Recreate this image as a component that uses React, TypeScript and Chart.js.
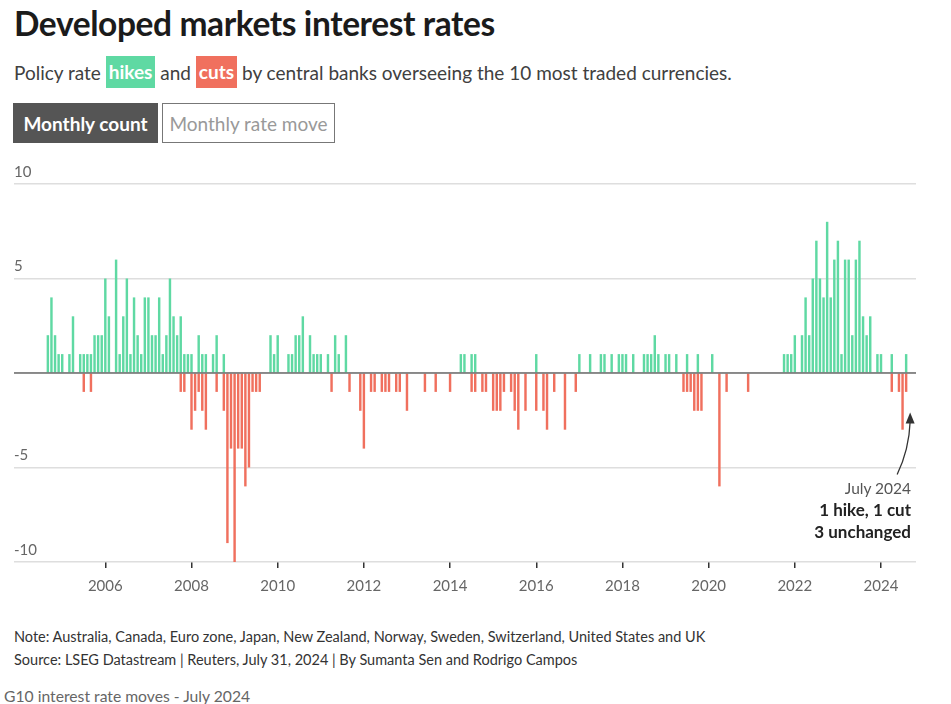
import { useEffect, useRef } from 'react';
import { Chart, registerables } from 'chart.js';

Chart.register(...registerables);

// Monthly counts of policy-rate moves, first month = August 2004, last = July 2024
const FIRST_YEAR = 2004;
const FIRST_MONTH = 8; // August

const hikes = [
  2, 4, 2, 1, 1, // 2004 Aug-Dec
  0, 1, 3, 0, 1, 1, 1, 1, 2, 2, 2, 5, // 2005
  3, 0, 6, 1, 3, 5, 1, 4, 2, 1, 4, 4, // 2006
  2, 2, 4, 1, 2, 5, 3, 2, 3, 1, 1, 1, // 2007
  0, 2, 1, 1, 0, 1, 2, 0, 1, 0, 0, 0, // 2008
  0, 0, 0, 0, 0, 0, 0, 0, 0, 2, 1, 2, // 2009
  0, 0, 1, 1, 2, 2, 3, 0, 2, 1, 1, 1, // 2010
  0, 1, 0, 2, 1, 0, 2, 0, 0, 0, 0, 0, // 2011
  0, 0, 0, 0, 0, 0, 0, 0, 0, 0, 0, 0, // 2012
  0, 0, 0, 0, 0, 0, 0, 0, 0, 0, 0, 0, // 2013
  0, 0, 1, 1, 0, 1, 1, 0, 0, 0, 0, 0, // 2014
  0, 0, 0, 0, 0, 0, 0, 0, 0, 0, 0, 1, // 2015
  0, 0, 0, 0, 0, 0, 0, 0, 0, 0, 0, 1, // 2016
  0, 0, 1, 0, 0, 1, 1, 0, 1, 0, 1, 1, // 2017
  1, 0, 1, 0, 0, 1, 1, 1, 2, 1, 0, 1, // 2018
  1, 0, 1, 0, 0, 1, 0, 0, 1, 0, 0, 0, // 2019
  1, 0, 0, 0, 0, 0, 0, 0, 0, 0, 0, 0, // 2020
  0, 0, 0, 0, 0, 0, 0, 0, 1, 1, 1, 2, // 2021
  0, 2, 4, 2, 5, 7, 5, 4, 8, 4, 6, 7, // 2022
  1, 6, 6, 2, 6, 7, 3, 2, 3, 0, 1, 1, // 2023
  0, 0, 1, 0, 0, 0, 1, // 2024 Jan-Jul
];

const cuts = [
  0, 0, 0, 0, 0, // 2004 Aug-Dec
  0, 0, 0, 0, 0, -1, 0, -1, 0, 0, 0, 0, // 2005
  0, 0, 0, 0, 0, 0, 0, 0, 0, 0, 0, 0, // 2006
  0, 0, 0, 0, 0, 0, 0, 0, -1, -1, 0, -3, // 2007
  -2, -1, -2, -3, 0, 0, -1, 0, -2, -9, -4, -10, // 2008
  -4, -4, -6, -5, -1, -1, -1, 0, 0, 0, 0, 0, // 2009
  0, 0, 0, 0, 0, 0, 0, 0, 0, 0, 0, 0, // 2010
  0, 0, -1, 0, 0, 0, 0, -1, 0, 0, -2, -4, // 2011
  0, -1, -1, 0, -1, -1, -1, 0, -1, -1, 0, -2, // 2012
  0, 0, 0, 0, -1, 0, 0, -1, 0, 0, 0, -1, // 2013
  0, 0, 0, 0, 0, -1, -1, 0, -1, -1, 0, -2, // 2014
  -2, -2, -1, 0, -1, -2, -3, 0, -2, 0, 0, -2, // 2015
  0, -2, -3, 0, -1, 0, 0, -3, 0, 0, -1, 0, // 2016
  0, 0, 0, 0, 0, 0, 0, 0, 0, 0, 0, 0, // 2017
  0, 0, 0, 0, 0, 0, 0, 0, 0, 0, 0, 0, // 2018
  0, 0, 0, 0, -1, -1, -1, -2, -2, -2, 0, 0, // 2019
  0, 0, -6, 0, -1, 0, 0, 0, 0, 0, -1, 0, // 2020
  0, 0, 0, 0, 0, 0, 0, 0, 0, 0, 0, 0, // 2021
  0, 0, 0, 0, 0, 0, 0, 0, 0, 0, 0, 0, // 2022
  0, 0, 0, 0, 0, 0, 0, 0, 0, 0, 0, 0, // 2023
  0, 0, -1, 0, -1, -3, -1, // 2024 Jan-Jul
];

const xTickYears = [2006, 2008, 2010, 2012, 2014, 2016, 2018, 2020, 2022, 2024];
const yTickValues = [-10, -5, 0, 5, 10];

const GREEN = '#5fd9a3';
const RED = '#f0705e';
const FONT = 'Lato, "Open Sans", sans-serif';

// bars are plotted at the end of their month
const monthPos = (i: number) => FIRST_YEAR + (FIRST_MONTH + i) / 12;

function ChartCanvas() {
  const ref = useRef<HTMLCanvasElement | null>(null);
  useEffect(() => {
    if (!ref.current) return;
    const overlay = {
      id: 'overlay',
      afterDatasetsDraw(chart: any) {
        const { ctx, chartArea, scales } = chart;
        const y0 = scales.y.getPixelForValue(0);
        ctx.save();
        ctx.strokeStyle = '#333';
        ctx.lineWidth = 1.2;
        ctx.beginPath();
        ctx.moveTo(chartArea.left, y0);
        ctx.lineTo(chartArea.right, y0);
        ctx.stroke();

        // annotation arrow pointing at the latest month
        const last = hikes.length - 1;
        const tx = scales.x.getPixelForValue(monthPos(last)) + 4;
        const ty = scales.y.getPixelForValue(-2.2);
        ctx.strokeStyle = '#333';
        ctx.fillStyle = '#333';
        ctx.lineWidth = 1.3;
        ctx.beginPath();
        ctx.moveTo(tx - 13, ty + 60);
        ctx.quadraticCurveTo(tx - 1, ty + 35, tx, ty + 7);
        ctx.stroke();
        ctx.beginPath();
        ctx.moveTo(tx, ty - 2);
        ctx.lineTo(tx + 4.5, ty + 9);
        ctx.lineTo(tx - 4.5, ty + 9);
        ctx.closePath();
        ctx.fill();
        ctx.restore();
      },
    };
    const chart = new Chart(ref.current, {
      type: 'bar',
      data: {
        datasets: [
          {
            label: 'hikes',
            data: hikes.map((v, i) => ({ x: monthPos(i), y: v })),
            backgroundColor: GREEN,
            barPercentage: 0.68,
            categoryPercentage: 1,
          },
          {
            label: 'cuts',
            data: cuts.map((v, i) => ({ x: monthPos(i), y: v })),
            backgroundColor: RED,
            barPercentage: 0.68,
            categoryPercentage: 1,
          },
        ],
      },
      options: {
        animation: false,
        responsive: false,
        maintainAspectRatio: false,
        layout: { padding: { left: 14, right: 35, top: 24, bottom: 0 } },
        plugins: { legend: { display: false }, tooltip: { enabled: false } },
        scales: {
          x: {
            type: 'linear',
            min: 2003.881,
            max: 2024.812,
            stacked: true,
            offset: false,
            afterBuildTicks: (s: any) => {
              s.ticks = xTickYears.map((v) => ({ value: v }));
            },
            afterFit: (s: any) => {
              s.height = 58;
            },
            grid: {
              display: true,
              offset: false,
              drawOnChartArea: false,
              drawTicks: true,
              tickLength: 6,
              color: '#333',
              lineWidth: 1.5,
            },
            border: { display: false },
            ticks: {
              padding: 9,
              color: '#666',
              font: { family: FONT, size: 15 },
              maxRotation: 0,
              autoSkip: false,
              callback: (v: any) => String(v),
            },
          },
          y: {
            min: -10,
            max: 10,
            stacked: true,
            afterBuildTicks: (s: any) => {
              s.ticks = yTickValues.map((v) => ({ value: v }));
            },
            afterFit: (s: any) => {
              s.width = 0;
            },
            grid: {
              color: '#dedede',
              lineWidth: 1.5,
              drawTicks: false,
            },
            border: { display: false },
            ticks: {
              mirror: true,
              padding: 0,
              labelOffset: -12,
              color: '#666',
              font: { family: FONT, size: 15 },
              callback: (v: any) => (v === 0 ? '' : String(v)),
            },
          },
        },
      },
      plugins: [overlay],
    } as any);
    return () => chart.destroy();
  }, []);
  return (
    <canvas
      ref={ref}
      width={951}
      height={460}
      style={{ position: 'absolute', left: 0, top: 160, width: 951, height: 460 }}
    />
  );
}

export default function App() {
  const abs = (s: any) => ({ position: 'absolute', ...s });
  return (
    <div
      style={{
        position: 'fixed',
        left: 0,
        top: 0,
        width: 951,
        height: 704,
        background: '#fff',
        overflow: 'hidden',
        fontFamily: FONT,
        color: '#333',
      }}
    >
      <div style={abs({ left: 14, top: 3, fontSize: 33.5, fontWeight: 700, color: '#1b1b1b', letterSpacing: -0.4, whiteSpace: 'nowrap' })}>
        Developed markets interest rates
      </div>
      <div style={abs({ left: 14, top: 56, height: 32, fontSize: 19, color: '#404040', whiteSpace: 'nowrap', display: 'flex', alignItems: 'center' })}>
        <span>Policy rate&nbsp;</span>
        <span style={{ background: GREEN, color: '#fff', fontWeight: 700, padding: '0 3px', height: 32, lineHeight: '32px', display: 'inline-block' }}>hikes</span>
        <span>&nbsp;and&nbsp;</span>
        <span style={{ background: RED, color: '#fff', fontWeight: 700, padding: '0 3px', height: 32, lineHeight: '32px', display: 'inline-block' }}>cuts</span>
        <span>&nbsp;by central banks overseeing the 10 most traded currencies.</span>
      </div>
      <div style={abs({ left: 13, top: 103, width: 145, height: 40, background: '#555', color: '#fff', fontWeight: 700, fontSize: 19, display: 'flex', alignItems: 'center', justifyContent: 'center', whiteSpace: 'nowrap' })}>
        Monthly count
      </div>
      <div style={abs({ left: 162, top: 103, width: 171, height: 38, border: '1px solid #777', color: '#999', fontSize: 19, display: 'flex', alignItems: 'center', justifyContent: 'center', whiteSpace: 'nowrap' })}>
        Monthly rate move
      </div>
      <ChartCanvas />
      <div style={abs({ right: 40, top: 477, textAlign: 'right', fontSize: 15.5, lineHeight: '22px', color: '#555', whiteSpace: 'nowrap' })}>
        <div>July 2024</div>
        <div style={{ fontWeight: 700, color: '#222', fontSize: 17 }}>1 hike, 1 cut</div>
        <div style={{ fontWeight: 700, color: '#222', fontSize: 17 }}>3 unchanged</div>
      </div>
      <div style={abs({ left: 14, top: 628, fontSize: 14.5, color: '#333', whiteSpace: 'nowrap' })}>
        Note: Australia, Canada, Euro zone, Japan, New Zealand, Norway, Sweden, Switzerland, United States and UK
      </div>
      <div style={abs({ left: 14, top: 651, fontSize: 14.5, color: '#333', whiteSpace: 'nowrap' })}>
        Source: LSEG Datastream | Reuters, July 31, 2024 | By Sumanta Sen and Rodrigo Campos
      </div>
      <div style={abs({ left: 4, top: 687, fontSize: 15.7, color: '#666', whiteSpace: 'nowrap' })}>
        G10 interest rate moves - July 2024
      </div>
    </div>
  );
}
